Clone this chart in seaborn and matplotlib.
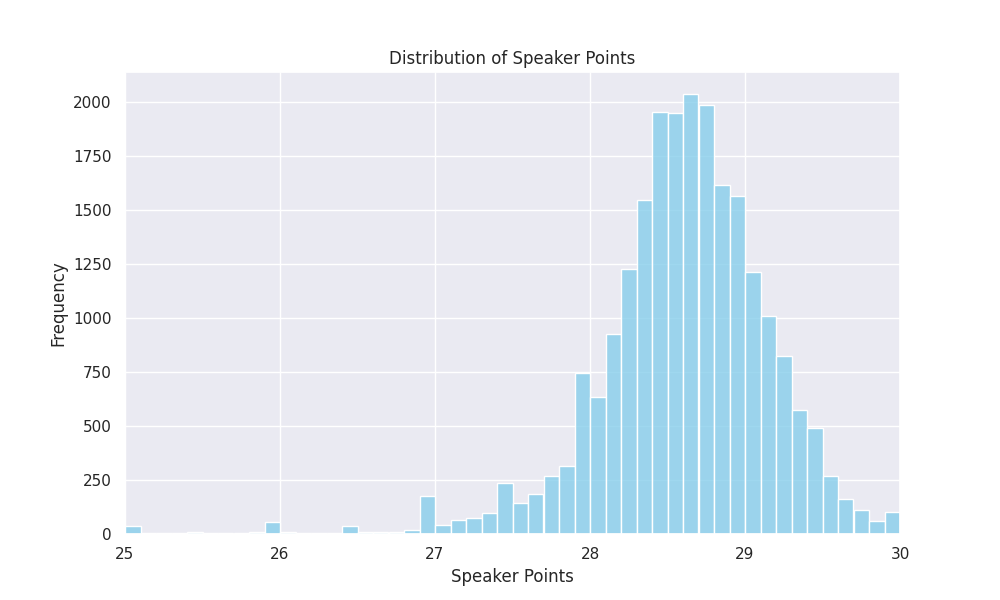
import numpy as np
import pandas as pd
import seaborn as sns
import matplotlib
matplotlib.use("Agg")
import matplotlib.pyplot as plt

bin_left = [round(25 + 0.1 * i, 1) for i in range(50)]
counts = [35, 5, 5, 5, 8, 5, 5, 5, 8, 55,
          10, 5, 5, 5, 35, 10, 10, 10, 20, 175,
          40, 65, 75, 95, 235, 145, 185, 270, 315, 745,
          635, 925, 1225, 1545, 1950, 1945, 2035, 1985, 1615, 1565,
          1210, 1010, 825, 575, 490, 270, 160, 110, 60, 100]

df = pd.DataFrame({"points": [b + 0.05 for b in bin_left], "count": counts})

sns.set_theme(style="darkgrid")
fig, ax = plt.subplots(figsize=(10, 6), dpi=100)
sns.histplot(data=df, x="points", weights="count", bins=50, binrange=(25, 30),
             color="skyblue", alpha=0.8, edgecolor="white", ax=ax)
ax.set_xlim(25, 30)
ax.set_title("Distribution of Speaker Points")
ax.set_xlabel("Speaker Points")
ax.set_ylabel("Frequency")
fig.savefig("out.png")
